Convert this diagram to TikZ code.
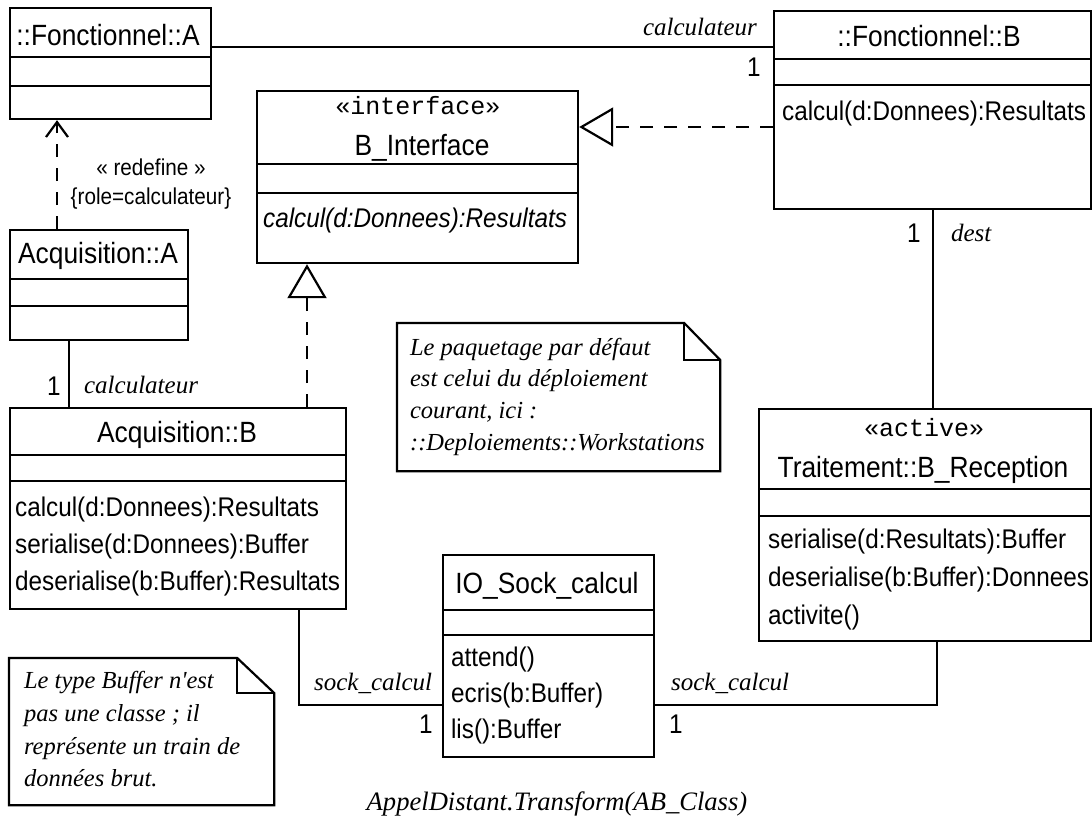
\documentclass[tikz,border=0pt]{standalone}
\usepackage{fontspec}
\setmainfont{Liberation Serif}
\newfontfamily\umlsans[FakeStretch=0.9]{Liberation Sans}
\newfontfamily\umlserif{Liberation Serif}
\newfontfamily\umlmono{Liberation Mono}
\usetikzlibrary{arrows.meta}
\tikzset{
  box/.style={draw, inner sep=0pt, rectangle, anchor=north west},
  cname/.style={font=\umlsans\fontsize{29.3}{34}\selectfont, inner sep=0pt, anchor=base},
  meth/.style={font=\umlsans\fontsize{27}{32}\selectfont, inner sep=0pt, anchor=base west},
  imeth/.style={font=\umlsans\itshape\fontsize{27}{32}\selectfont, inner sep=0pt, anchor=base west},
  stereo/.style={font=\umlmono\fontsize{25}{30}\selectfont, inner sep=0pt, anchor=base},
  role/.style={font=\umlserif\itshape\fontsize{25}{30}\selectfont, inner sep=0pt, anchor=base west},
  mult/.style={font=\umlsans\fontsize{27}{32}\selectfont, inner sep=0pt, anchor=base west},
  small/.style={font=\umlsans\fontsize{23}{28}\selectfont, inner sep=0pt, anchor=base},
  notetext/.style={font=\umlserif\itshape\fontsize{24.5}{30}\selectfont, inner sep=0pt, anchor=base west},
  notebox/.style={inner sep=0pt, anchor=north west},
  dashpat/.style={dash pattern=on 13pt off 11pt},
  realize/.style={dashpat, -{Triangle[open, length=34pt, width=39pt, line width=2.2pt]}},
  depend/.style={dashpat, -{Straight Barb[length=15pt, width=22pt, line width=2.2pt]}},
}
\begin{document}
\begin{tikzpicture}[x=1pt, y=-1pt, line width=2.2pt]
\useasboundingbox (0,0) rectangle (1092,820);
\fill[white] (0,0) rectangle (1092,820);

% ::Fonctionnel::A
\node[box, minimum width=201pt, minimum height=111pt] (fa) at (9,7) {};
\draw (fa.west |- 0,57) -- (fa.east |- 0,57);
\draw (fa.west |- 0,86) -- (fa.east |- 0,86);
\node[cname] (fat) at (108,45) {::Fonctionnel::A};

% ::Fonctionnel::B
\node[box, minimum width=317pt, minimum height=198pt] (fb) at (773,10) {};
\draw (fb.west |- 0,59) -- (fb.east |- 0,59);
\draw (fb.west |- 0,85) -- (fb.east |- 0,85);
\node[cname] (fbt) at (929,46) {::Fonctionnel::B};
\node[meth] (fbm) at (781,120) {calcul(d:Donnees):Resultats};

% B_Interface
\node[box, minimum width=321pt, minimum height=172pt] (bi) at (256,90) {};
\draw (bi.west |- 0,164) -- (bi.east |- 0,164);
\draw (bi.west |- 0,193) -- (bi.east |- 0,193);
\node[stereo] (bis) at (418,114) {«interface»};
\node[cname] (bit) at (422,155) {B\_Interface};
\node[imeth] (bim) at (262,227) {calcul(d:Donnees):Resultats};

% Acquisition::A
\node[box, minimum width=178pt, minimum height=110pt] (aa) at (9,229) {};
\draw (aa.west |- 0,279) -- (aa.east |- 0,279);
\draw (aa.west |- 0,306) -- (aa.east |- 0,306);
\node[cname] (aat) at (98,263) {Acquisition::A};

% Acquisition::B
\node[box, minimum width=336pt, minimum height=201pt] (ab) at (9,407) {};
\draw (ab.west |- 0,455) -- (ab.east |- 0,455);
\draw (ab.west |- 0,481) -- (ab.east |- 0,481);
\node[cname] (abt) at (177,442) {Acquisition::B};
\node[meth] (abm1) at (14,516) {calcul(d:Donnees):Resultats};
\node[meth] (abm2) at (14,553) {serialise(d:Donnees):Buffer};
\node[meth] (abm3) at (14,590) {deserialise(b:Buffer):Resultats};

% IO_Sock_calcul
\node[box, minimum width=211pt, minimum height=202pt] (io) at (442,554) {};
\draw (io.west |- 0,610) -- (io.east |- 0,610);
\draw (io.west |- 0,635) -- (io.east |- 0,635);
\node[cname] (iot) at (547,593) {IO\_Sock\_calcul};
\node[meth] (iom1) at (450,666) {attend()};
\node[meth] (iom2) at (450,702) {ecris(b:Buffer)};
\node[meth] (iom3) at (450,738) {lis():Buffer};

% Traitement::B_Reception
\node[box, minimum width=332pt, minimum height=232pt] (tr) at (758,408) {};
\draw (tr.west |- 0,489) -- (tr.east |- 0,489);
\draw (tr.west |- 0,516) -- (tr.east |- 0,516);
\node[stereo] (trs) at (924,436) {«active»};
\node[cname] (trt) at (923,477) {Traitement::B\_Reception};
\node[meth] (trm1) at (767,548) {serialise(d:Resultats):Buffer};
\node[meth] (trm2) at (767,586) {deserialise(b:Buffer):Donnees};
\node[meth] (trm3) at (767,624) {activite()};

% Notes
\node[notebox, minimum width=321pt, minimum height=146pt] (n1) at (397,323) {};
\draw (n1.north west) -- ([xshift=-36pt]n1.north east) -- ([yshift=-37pt]n1.north east) -- (n1.south east) -- (n1.south west) -- cycle;
\draw ([xshift=-36pt]n1.north east) |- ([yshift=-37pt]n1.north east);
\node[notetext] (n1a) at (409,355) {Le paquetage par défaut};
\node[notetext] (n1b) at (409,386) {est celui du déploiement};
\node[notetext] (n1c) at (409,418) {courant, ici :};
\node[notetext] (n1d) at (409,450) {::Deploiements::Workstations};

\node[notebox, minimum width=263pt, minimum height=145pt] (n2) at (9,658) {};
\draw (n2.north west) -- ([xshift=-37pt]n2.north east) -- ([yshift=-35pt]n2.north east) -- (n2.south east) -- (n2.south west) -- cycle;
\draw ([xshift=-37pt]n2.north east) |- ([yshift=-35pt]n2.north east);
\node[notetext] (n2a) at (23,688) {Le type Buffer n'est};
\node[notetext] (n2b) at (23,721) {pas une classe ; il};
\node[notetext] (n2c) at (23,754) {représente un train de};
\node[notetext] (n2d) at (23,786) {données brut.};

% Connectors
\draw (fa.east |- 0,47) -- (fb.west |- 0,47);
\node[role, anchor=base east] (r1) at (758,35) {calculateur};
\node[mult] (m1) at (746,76) {1};

\draw[realize] (fb.west |- 0,127) -- (bi.east |- 0,127);
\draw[realize] (ab.north -| 307,0) -- (bi.south -| 307,0);

\draw[depend] (aa.north -| 57,0) -- (fa.south -| 57,0);
\node[small] (red1) at (151,175) {« redefine »};
\node[small] (red2) at (151,204) {\{role=calculateur\}};

\draw (aa.south -| 69,0) -- (ab.north -| 69,0);
\node[mult] (m2) at (46,395) {1};
\node[role] (r2) at (83,393) {calculateur};

\draw (fb.south -| 933,0) -- (tr.north -| 933,0);
\node[mult] (m3) at (906,242) {1};
\node[role] (r3) at (950,241) {dest};

\draw (ab.south -| 299,0) |- (io.west |- 0,705);
\node[role] (r4) at (313,690) {sock\_calcul};
\node[mult] (m4) at (418,733) {1};

\draw (io.east |- 0,705) -| (tr.south -| 937,0);
\node[role] (r5) at (670,690) {sock\_calcul};
\node[mult] (m5) at (668,733) {1};

% Caption
\node[font=\umlserif\itshape\fontsize{26.6}{32}\selectfont, inner sep=0pt, anchor=base] (cap) at (557,810) {AppelDistant.Transform(AB\_Class)};
\end{tikzpicture}
\end{document}
